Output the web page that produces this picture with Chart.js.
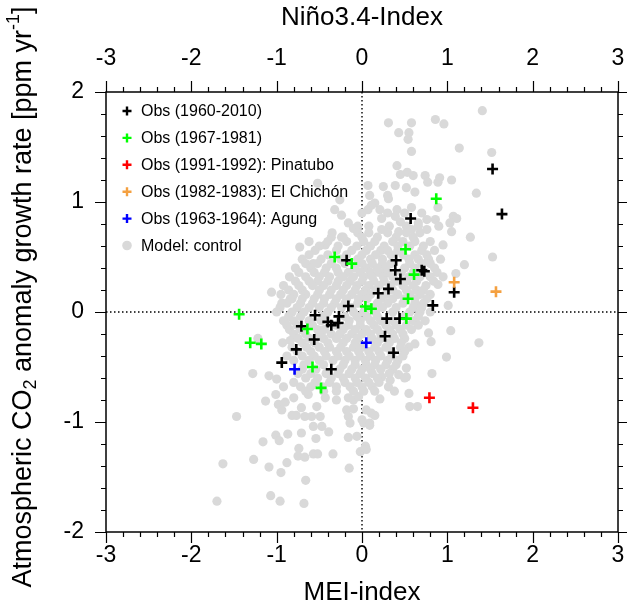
<!DOCTYPE html>
<html>
<head>
<meta charset="utf-8">
<script src="https://cdn.jsdelivr.net/npm/chart.js@4.4.1/dist/chart.umd.min.js"></script>
<style>
  html, body { margin: 0; padding: 0; background: #fff; }
  #wrap { width: 627px; height: 610px; }
</style>
</head>
<body>
<div id="wrap"><canvas id="myChart" width="627" height="610"></canvas></div>
<script>
// axis ranges / tick labels
const xRange = [-3, 3];
const yRange = [-2, 2];

// observations [MEI, growth-rate anomaly]
const obsAll = [
  [1.53, 1.30], [1.64, 0.89], [0.57, 0.85], [-0.18, 0.47], [0.40, 0.47],
  [0.39, 0.38], [0.45, 0.30], [0.70, 0.38], [0.73, 0.37], [1.08, 0.18],
  [0.19, 0.17], [0.31, 0.21], [0.83, 0.06], [-0.16, 0.055], [-0.55, -0.03],
  [-0.27, -0.04], [0.29, -0.06], [0.44, -0.06], [-0.71, -0.13], [-0.40, -0.09],
  [-0.36, -0.12], [-0.28, -0.10], [-0.56, -0.25], [-0.77, -0.34], [-0.94, -0.46],
  [-0.36, -0.52], [0.27, -0.22], [0.37, -0.37]
];
const obs6781 = [
  [0.87, 1.03], [0.51, 0.57], [-0.32, 0.50], [-0.12, 0.44], [0.61, 0.34],
  [0.54, 0.12], [0.04, 0.05], [0.11, 0.03], [-1.44, -0.02], [0.52, -0.06],
  [-0.64, -0.155], [-1.31, -0.28], [-1.18, -0.29], [-0.58, -0.50], [-0.48, -0.69]
];
const obsPinatubo = [[0.79, -0.78], [1.30, -0.87]];
const obsElChichon = [[1.08, 0.27], [1.57, 0.185]];
const obsAgung = [[-0.79, -0.52], [0.05, -0.28]];

// model control run (outer points)
const modelOuter = [
  [1.41, 1.83], [0.31, 1.72], [0.58, 1.72], [0.86, 1.75], [0.96, 1.71], [0.43, 1.63],
  [0.55, 1.63], [0.54, 1.57], [1.14, 1.49], [0.58, 1.46], [1.52, 1.45], [0.41, 1.33],
  [0.45, 1.25], [0.53, 1.27], [0.60, 1.24], [0.74, 1.24], [0.77, 1.18], [0.91, 1.22],
  [0.89, 1.18], [1.05, 1.20], [0.25, 1.14], [0.39, 1.15], [0.52, 1.13], [0.62, 1.09],
  [1.34, 1.08], [0.30, 1.06], [0.31, 1.03], [0.15, 0.99], [0.21, 0.93], [0.41, 0.93],
  [0.58, 0.95], [0.89, 0.95], [1.07, 0.87], [1.11, 0.85], [0.86, 0.84], [0.76, 0.84],
  [0.66, 0.81], [0.45, 0.82], [0.39, 0.87], [0.23, 0.85], [1.03, 0.81], [1.05, 0.73],
  [1.27, 0.68], [0.76, 0.75], [0.58, 0.75], [0.43, 0.73], [0.23, 0.75],
  [-0.52, 1.17], [-0.32, 0.93], [-0.24, 0.88], [-0.16, 0.81], [-0.10, 0.76], [0.07, 1.15],
  [0.09, 1.06], [0.11, 0.97], [0.07, 0.93], [-0.36, 0.68], [-0.24, 0.68], [-0.26, 1.02],
  [-0.43, 0.61], [-0.73, 0.59], [-0.57, 0.44], [-1.06, 0.18], [-0.94, 0.08], [-0.82, 0.12],
  [1.53, 0.50], [1.20, 0.43], [1.10, 0.35], [0.95, 0.61], [0.89, 0.25], [1.01, 0.06],
  [1.04, -0.17], [1.37, -0.28], [0.78, -0.19], [0.81, -0.27], [0.62, -0.29], [0.99, -0.41],
  [0.82, -0.56], [0.52, -0.51], [0.43, -0.57], [0.52, -0.59], [0.23, -0.59], [0.33, -0.62],
  [0.50, -0.60], [0.31, -0.68], [0.38, -0.72], [0.55, -0.74], [0.21, -0.79], [0.56, -0.86],
  [0.65, -0.86], [0.15, -0.94], [-0.10, -0.80], [0.02, -1.01], [0.09, -1.01], [-0.06, -1.13],
  [0.04, -1.22],
  [-1.13, -0.81], [-1.01, -0.75], [-1.47, -0.95], [-0.39, -1.09], [-0.16, -1.14], [-0.71, -1.10],
  [-0.54, -1.15], [-0.87, -1.11], [-1.01, -1.12], [-0.97, -1.17], [-1.16, -1.18], [-0.74, -1.24],
  [-0.75, -1.31], [-0.67, -1.32], [-0.57, -1.29], [-0.52, -1.29], [-0.34, -1.29], [-0.02, -1.27],
  [0.05, -1.25], [-1.27, -1.34], [-1.63, -1.38], [-1.09, -1.41], [-0.88, -1.37], [-0.95, -1.46],
  [-0.15, -1.42], [-0.66, -1.53], [-1.07, -1.67], [-0.96, -1.72], [-1.70, -1.72], [-0.68, -1.74],
  [-0.98, -0.84], [-0.90, -0.82], [-0.94, -0.89], [-0.80, -0.78], [-0.82, -0.94], [-0.77, -0.94],
  [-0.71, -0.87], [-0.67, -0.95], [-0.59, -0.95], [-0.53, -0.86], [-0.49, -0.95], [-0.57, -1.04],
  [-0.47, -1.04], [-0.63, -0.75], [-0.43, -0.78], [-0.30, -0.80], [-0.16, -0.78], [-0.04, -0.77],
  [-0.18, -0.89], [-0.10, -0.88], [-0.16, -0.95], [-0.14, -1.01], [0.00, -0.98], [0.05, -0.89],
  [0.11, -0.92], [0.09, -1.03],
  [-1.28, -0.56], [-1.09, -0.58], [-1.00, -0.61], [-0.92, -0.68], [-1.22, -0.24], [-0.93, -0.28],
  [-0.84, -0.26]
];

// model control run (dense core, read row by row)
const modelCore = [
  [0.00, 0.90], [0.30, 0.90], [0.50, 0.90], [0.70, 0.90],
  [-0.05, 0.78], [0.08, 0.78], [0.32, 0.78], [0.52, 0.78], [0.66, 0.78], [0.90, 0.78],
  [-0.35, 0.72], [-0.05, 0.72], [0.08, 0.72], [0.30, 0.72], [0.52, 0.72], [0.68, 0.72],
  [-0.22, 0.68], [0.00, 0.68], [0.18, 0.68], [0.40, 0.68], [0.60, 0.68],
  [-0.62, 0.64], [-0.40, 0.64], [-0.18, 0.64], [0.02, 0.64], [0.15, 0.64], [0.36, 0.64], [0.48, 0.64], [0.62, 0.64], [0.80, 0.64],
  [-0.50, 0.60], [-0.28, 0.60], [-0.06, 0.60], [0.10, 0.60], [0.26, 0.60], [0.42, 0.60], [0.56, 0.60], [0.72, 0.60],
  [-0.55, 0.56], [-0.30, 0.56], [-0.12, 0.56], [0.05, 0.56], [0.22, 0.56], [0.30, 0.56], [0.42, 0.56], [0.70, 0.56], [0.85, 0.56],
  [-0.62, 0.52], [-0.40, 0.52], [-0.18, 0.52], [0.00, 0.52], [0.16, 0.52], [0.34, 0.52], [0.48, 0.52], [0.62, 0.52], [0.76, 0.52],
  [-0.70, 0.48], [-0.48, 0.48], [-0.25, 0.48], [-0.05, 0.48], [0.10, 0.48], [0.24, 0.48], [0.55, 0.48], [0.66, 0.48], [0.78, 0.48], [0.92, 0.48],
  [-0.66, 0.44], [-0.52, 0.44], [-0.36, 0.44], [-0.20, 0.44], [0.00, 0.44], [0.12, 0.44], [0.24, 0.44], [0.34, 0.44], [0.56, 0.44], [0.70, 0.44], [0.80, 0.44],
  [-0.78, 0.40], [-0.60, 0.40], [-0.42, 0.40], [-0.30, 0.40], [-0.08, 0.40], [0.05, 0.40], [0.18, 0.40], [0.28, 0.40], [0.50, 0.40], [0.62, 0.40], [0.85, 0.40],
  [-0.74, 0.36], [-0.56, 0.36], [-0.44, 0.36], [-0.28, 0.36], [-0.16, 0.36], [-0.02, 0.36], [0.10, 0.36], [0.20, 0.36], [0.30, 0.36], [0.46, 0.36], [0.60, 0.36], [0.74, 0.36], [0.88, 0.36],
  [-0.85, 0.32], [-0.66, 0.32], [-0.50, 0.32], [-0.38, 0.32], [-0.22, 0.32], [-0.10, 0.32], [0.02, 0.32], [0.12, 0.32], [0.25, 0.32], [0.36, 0.32], [0.55, 0.32], [0.68, 0.32], [0.80, 0.32], [0.95, 0.32],
  [-0.78, 0.28], [-0.62, 0.28], [-0.52, 0.28], [-0.40, 0.28], [-0.28, 0.28], [-0.14, 0.28], [0.00, 0.28], [0.14, 0.28], [0.26, 0.28], [0.40, 0.28], [0.52, 0.28], [0.64, 0.28], [0.84, 0.28],
  [-0.92, 0.24], [-0.74, 0.24], [-0.58, 0.24], [-0.45, 0.24], [-0.30, 0.24], [-0.18, 0.24], [-0.06, 0.24], [0.08, 0.24], [0.20, 0.24], [0.33, 0.24], [0.48, 0.24], [0.60, 0.24], [0.75, 0.24],
  [-0.86, 0.20], [-0.70, 0.20], [-0.50, 0.20], [-0.36, 0.20], [-0.22, 0.20], [-0.08, 0.20], [0.04, 0.20], [0.16, 0.20], [0.36, 0.20], [0.52, 0.20], [0.64, 0.20], [0.72, 0.20],
  [-0.95, 0.16], [-0.80, 0.16], [-0.66, 0.16], [-0.52, 0.16], [-0.38, 0.16], [-0.25, 0.16], [-0.12, 0.16], [0.00, 0.16], [0.10, 0.16], [0.28, 0.16], [0.42, 0.16], [0.56, 0.16], [0.68, 0.16], [0.80, 0.16],
  [-0.84, 0.12], [-0.70, 0.12], [-0.56, 0.12], [-0.44, 0.12], [-0.30, 0.12], [-0.18, 0.12], [-0.04, 0.12], [0.06, 0.12], [0.22, 0.12], [0.36, 0.12], [0.50, 0.12], [0.62, 0.12], [0.76, 0.12],
  [-0.88, 0.08], [-0.72, 0.08], [-0.58, 0.08], [-0.45, 0.08], [-0.32, 0.08], [-0.20, 0.08], [-0.05, 0.08], [0.18, 0.08], [0.30, 0.08], [0.48, 0.08], [0.62, 0.08], [0.72, 0.08],
  [-0.96, 0.04], [-0.76, 0.04], [-0.62, 0.04], [-0.50, 0.04], [-0.36, 0.04], [-0.24, 0.04], [-0.12, 0.04], [0.10, 0.04], [0.24, 0.04], [0.40, 0.04], [0.60, 0.04], [0.70, 0.04],
  [-1.00, 0.00], [-0.82, 0.00], [-0.68, 0.00], [-0.40, 0.00], [-0.10, 0.00], [0.02, 0.00], [0.16, 0.00], [0.36, 0.00], [0.56, 0.00], [0.68, 0.00], [0.80, 0.00],
  [-0.86, -0.04], [-0.72, -0.04], [-0.46, -0.04], [-0.20, -0.04], [-0.06, -0.04], [0.06, -0.04], [0.18, -0.04], [0.50, -0.04], [0.66, -0.04],
  [-0.92, -0.08], [-0.80, -0.08], [-0.62, -0.08], [-0.48, -0.08], [-0.15, -0.08], [-0.02, -0.08], [0.10, -0.08], [0.22, -0.08], [0.36, -0.08], [0.60, -0.08], [0.74, -0.08],
  [-0.88, -0.12], [-0.76, -0.12], [-0.58, -0.12], [-0.30, -0.12], [-0.16, -0.12], [-0.02, -0.12], [0.14, -0.12], [0.28, -0.12], [0.40, -0.12], [0.52, -0.12], [0.66, -0.12],
  [-0.85, -0.16], [-0.72, -0.16], [-0.52, -0.16], [-0.44, -0.16], [-0.22, -0.16], [-0.08, -0.16], [0.05, -0.16], [0.18, -0.16], [0.32, -0.16], [0.45, -0.16], [0.58, -0.16],
  [-0.80, -0.20], [-0.66, -0.20], [-0.50, -0.20], [-0.36, -0.20], [-0.26, -0.20], [-0.12, -0.20], [0.00, -0.20], [0.10, -0.20], [0.22, -0.20], [0.36, -0.20], [0.48, -0.20],
  [-0.75, -0.24], [-0.62, -0.24], [-0.45, -0.24], [-0.30, -0.24], [-0.18, -0.24], [-0.05, -0.24], [0.12, -0.24], [0.22, -0.24], [0.38, -0.24], [0.50, -0.24],
  [-0.70, -0.28], [-0.56, -0.28], [-0.40, -0.28], [-0.22, -0.28], [-0.08, -0.28], [0.18, -0.28], [0.32, -0.28], [0.46, -0.28],
  [-0.82, -0.32], [-0.65, -0.32], [-0.50, -0.32], [-0.38, -0.32], [-0.25, -0.32], [-0.10, -0.32], [0.00, -0.32], [0.15, -0.32], [0.28, -0.32], [0.45, -0.32], [0.55, -0.32],
  [-0.76, -0.36], [-0.60, -0.36], [-0.44, -0.36], [-0.30, -0.36], [-0.18, -0.36], [-0.04, -0.36], [0.08, -0.36], [0.20, -0.36], [0.34, -0.36], [0.50, -0.36],
  [-0.88, -0.40], [-0.70, -0.40], [-0.56, -0.40], [-0.42, -0.40], [-0.28, -0.40], [-0.15, -0.40], [-0.02, -0.40], [0.10, -0.40], [0.22, -0.40], [0.35, -0.40], [0.48, -0.40],
  [-0.80, -0.44], [-0.62, -0.44], [-0.50, -0.44], [-0.34, -0.44], [-0.20, -0.44], [-0.08, -0.44], [0.04, -0.44], [0.16, -0.44], [0.30, -0.44], [0.42, -0.44],
  [-0.68, -0.48], [-0.45, -0.48], [-0.22, -0.48], [-0.08, -0.48], [0.05, -0.48], [0.15, -0.48], [0.28, -0.48], [0.40, -0.48],
  [-0.70, -0.52], [-0.54, -0.52], [-0.26, -0.52], [-0.12, -0.52], [0.00, -0.52], [0.10, -0.52], [0.22, -0.52], [0.36, -0.52],
  [-0.75, -0.56], [-0.60, -0.56], [-0.42, -0.56], [-0.28, -0.56], [-0.15, -0.56], [-0.02, -0.56], [0.12, -0.56], [0.32, -0.56],
  [-0.66, -0.60], [-0.52, -0.60], [-0.36, -0.60], [-0.22, -0.60], [-0.08, -0.60], [0.04, -0.60], [0.18, -0.60],
  [-0.80, -0.64], [-0.55, -0.64], [-0.38, -0.64], [-0.20, -0.64], [-0.06, -0.64], [0.08, -0.64], [0.20, -0.64],
  [-0.72, -0.68], [-0.60, -0.68], [-0.46, -0.68], [-0.30, -0.68], [-0.14, -0.68], [0.00, -0.68], [0.12, -0.68],
  [-0.66, -0.72], [-0.45, -0.72], [-0.30, -0.72], [-0.10, -0.72], [0.02, -0.72], [0.15, -0.72]
];

const legendLabels = [
  'Obs (1960-2010)',
  'Obs (1967-1981)',
  'Obs (1991-1992): Pinatubo',
  'Obs (1982-1983): El Chichón',
  'Obs (1963-1964): Agung',
  'Model: control'
];
const seriesColors = ['#000000', '#00ff00', '#ff0000', '#f4a040', '#0000ff', '#d9d9d9'];

function toPoints(arr) {
  return arr.map(p => ({ x: p[0], y: p[1] }));
}

function crossSet(i, arr, order) {
  return {
    label: legendLabels[i],
    data: toPoints(arr),
    pointStyle: 'cross',
    pointRadius: 5.5,
    borderColor: seriesColors[i],
    pointBorderWidth: 2.6,
    order: order
  };
}

const fontName = '"Liberation Sans", Arial, Helvetica, sans-serif';

// no label-overflow padding so the plot box keeps its exact place
function noOverflow(s) {
  s.paddingLeft = 0; s.paddingRight = 0; s.paddingTop = 0; s.paddingBottom = 0;
}

// frame, dotted zero lines, tick marks on all four sides
const framePlugin = {
  id: 'frame',
  beforeDatasetsDraw(chart) {
    const { ctx, chartArea: a, scales } = chart;
    const x0 = scales.x.getPixelForValue(0);
    const y0 = scales.y.getPixelForValue(0);
    ctx.save();
    ctx.strokeStyle = '#000';
    ctx.lineWidth = 1.4;
    ctx.setLineDash([1.5, 2.5]);
    ctx.beginPath();
    ctx.moveTo(x0, a.top); ctx.lineTo(x0, a.bottom);
    ctx.moveTo(a.left, y0); ctx.lineTo(a.right, y0);
    ctx.stroke();
    ctx.restore();
  },
  afterDraw(chart) {
    const { ctx, chartArea: a, scales } = chart;
    ctx.save();
    ctx.strokeStyle = '#000';
    ctx.lineWidth = 1.5;
    ctx.strokeRect(a.left, a.top, a.right - a.left, a.bottom - a.top);
    ctx.lineWidth = 1.2;
    ctx.beginPath();
    for (let i = 0; i <= 30; i++) {
      const v = xRange[0] + i * 0.2;
      const len = i % 5 === 0 ? 11 : 5;
      const px = Math.round(scales.x.getPixelForValue(v)) + 0.5;
      ctx.moveTo(px, a.bottom); ctx.lineTo(px, a.bottom + len);
      ctx.moveTo(px, a.top); ctx.lineTo(px, a.top - len);
    }
    for (let i = 0; i <= 20; i++) {
      const v = yRange[0] + i * 0.2;
      const len = i % 5 === 0 ? 11 : 5;
      const py = Math.round(scales.y.getPixelForValue(v)) + 0.5;
      ctx.moveTo(a.left, py); ctx.lineTo(a.left - len, py);
      ctx.moveTo(a.right, py); ctx.lineTo(a.right + len, py);
    }
    ctx.stroke();

    // legend
    ctx.font = '16px ' + fontName;
    ctx.textBaseline = 'middle';
    ctx.fillStyle = '#000';
    for (let i = 0; i < legendLabels.length; i++) {
      const ly = 111 + i * 26.9;
      const lx = 127;
      if (i < 5) {
        ctx.strokeStyle = seriesColors[i];
        ctx.lineWidth = 2.4;
        ctx.beginPath();
        ctx.moveTo(lx - 4.5, ly); ctx.lineTo(lx + 4.5, ly);
        ctx.moveTo(lx, ly - 4.5); ctx.lineTo(lx, ly + 4.5);
        ctx.stroke();
      } else {
        ctx.fillStyle = seriesColors[i];
        ctx.beginPath();
        ctx.arc(lx, ly, 4.8, 0, Math.PI * 2);
        ctx.fill();
      }
      ctx.fillStyle = '#000';
      ctx.fillText(legendLabels[i], 141, ly + 1);
    }

    // y axis title with sub/superscript
    const parts = [
      { t: 'Atmospheric CO', s: 27, dy: 0 },
      { t: '2', s: 18, dy: 7 },
      { t: ' anomaly growth rate [ppm yr', s: 27, dy: 0 },
      { t: '-1', s: 18, dy: -10 },
      { t: ']', s: 27, dy: 0 }
    ];
    let total = 0;
    parts.forEach(p => { ctx.font = p.s + 'px ' + fontName; p.w = ctx.measureText(p.t).width; total += p.w; });
    ctx.translate(24, 297);
    ctx.rotate(-Math.PI / 2);
    let cx = -total / 2;
    ctx.textAlign = 'left';
    parts.forEach(p => {
      ctx.font = p.s + 'px ' + fontName;
      ctx.fillText(p.t, cx, p.dy);
      cx += p.w;
    });
    ctx.restore();
  }
};

document.addEventListener('DOMContentLoaded', function () {
  const ctx = document.getElementById('myChart').getContext('2d');
  new Chart(ctx, {
    type: 'scatter',
    data: {
      datasets: [
        crossSet(0, obsAll, 5),
        crossSet(1, obs6781, 4),
        crossSet(2, obsPinatubo, 3),
        crossSet(3, obsElChichon, 2),
        crossSet(4, obsAgung, 1),
        {
          label: legendLabels[5],
          data: toPoints(modelOuter.concat(modelCore)),
          pointRadius: 4.6,
          pointBorderWidth: 0,
          backgroundColor: seriesColors[5],
          borderColor: seriesColors[5],
          order: 6
        }
      ]
    },
    options: {
      responsive: false,
      animation: false,
      events: [],
      layout: { padding: { left: 0, right: 9, top: 0, bottom: 0 } },
      plugins: {
        legend: { display: false },
        tooltip: { enabled: false }
      },
      scales: {
        x: {
          type: 'linear',
          position: 'bottom',
          min: xRange[0], max: xRange[1],
          grid: { display: false, drawTicks: false },
          border: { display: false },
          ticks: { stepSize: 1, padding: 10, color: '#000', font: { family: fontName, size: 23 } },
          title: { display: true, text: 'MEI-index', color: '#000', padding: { top: 0, bottom: 2 }, font: { family: fontName, size: 26 } },
          afterFit(s) { s.height = 78; noOverflow(s); }
        },
        x2: {
          type: 'linear',
          position: 'top',
          min: xRange[0], max: xRange[1],
          grid: { display: false, drawTicks: false },
          border: { display: false },
          ticks: { stepSize: 1, padding: 20, color: '#000', font: { family: fontName, size: 23 } },
          title: { display: true, text: 'Niño3.4-Index', color: '#000', padding: { top: 2, bottom: 0 }, font: { family: fontName, size: 26 } },
          afterFit(s) { s.height = 92; noOverflow(s); }
        },
        y: {
          type: 'linear',
          position: 'left',
          min: yRange[0], max: yRange[1],
          grid: { display: false, drawTicks: false },
          border: { display: false },
          ticks: { stepSize: 1, padding: 22, color: '#000', font: { family: fontName, size: 23 } },
          afterFit(s) { s.width = 106; noOverflow(s); }
        }
      }
    },
    plugins: [framePlugin]
  });
});
</script>
</body>
</html>
